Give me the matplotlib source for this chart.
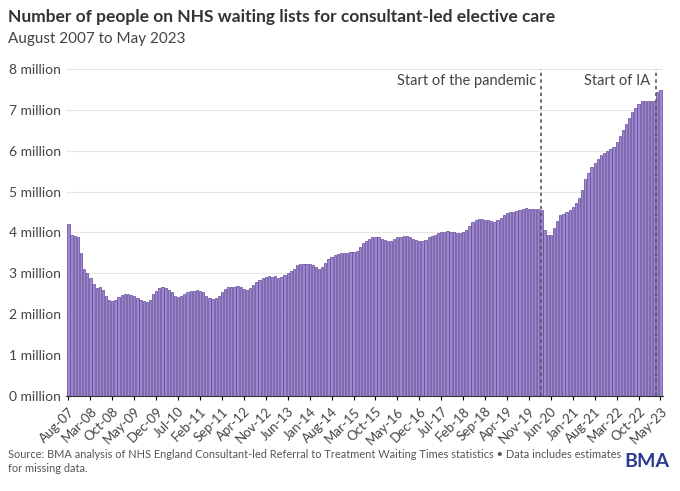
import numpy as np
import pandas as pd
import matplotlib
matplotlib.use('Agg')
import matplotlib.pyplot as plt

plt.rcParams['font.family'] = ['Lato', 'DejaVu Sans']

# Waiting list size, millions, monthly Aug 2007 - May 2023
values = [
    4.2, 3.95, 3.92, 3.88, 3.5,
    3.1, 3.0, 2.9, 2.75, 2.65, 2.68, 2.6, 2.45, 2.35, 2.33, 2.35, 2.42,
    2.47, 2.5, 2.5, 2.48, 2.45, 2.4, 2.35, 2.33, 2.3, 2.35, 2.5, 2.58,
    2.65, 2.68, 2.65, 2.6, 2.55, 2.45, 2.42, 2.45, 2.5, 2.55, 2.58, 2.58,
    2.6, 2.58, 2.55, 2.45, 2.4, 2.38, 2.4, 2.45, 2.55, 2.62, 2.67, 2.68,
    2.68, 2.7, 2.68, 2.62, 2.6, 2.65, 2.72, 2.8, 2.85, 2.9, 2.92, 2.93,
    2.92, 2.93, 2.9, 2.92, 2.95, 3.0, 3.05, 3.12, 3.2, 3.22, 3.23, 3.24,
    3.22, 3.2, 3.15, 3.12, 3.15, 3.25, 3.35, 3.4, 3.45, 3.48, 3.5, 3.5,
    3.5, 3.52, 3.52, 3.55, 3.65, 3.75, 3.8, 3.85, 3.88, 3.9, 3.9, 3.85,
    3.82, 3.78, 3.8, 3.85, 3.88, 3.9, 3.92, 3.92, 3.9, 3.85, 3.82, 3.8,
    3.78, 3.82, 3.88, 3.92, 3.95, 3.98, 4.0, 4.02, 4.03, 4.02, 4.0, 3.98,
    3.98, 4.0, 4.05, 4.15, 4.25, 4.3, 4.32, 4.33, 4.3, 4.3, 4.28, 4.26,
    4.3, 4.35, 4.42, 4.47, 4.5, 4.5, 4.52, 4.55, 4.58, 4.6, 4.58, 4.58,
    4.57, 4.57, 4.55, 4.05, 3.93, 3.95, 4.1, 4.28, 4.42, 4.45, 4.5, 4.55,
    4.62, 4.72, 4.85, 5.05, 5.3, 5.45, 5.6, 5.7, 5.8, 5.9, 5.95, 6.0,
    6.05, 6.1, 6.2, 6.35, 6.5, 6.65, 6.8, 6.95, 7.05, 7.15, 7.2, 7.2,
    7.2, 7.2, 7.22, 7.42, 7.47,
]
months = pd.date_range('2007-08-01', periods=len(values), freq='MS')
labels = [m.strftime('%b-%y') for m in months]
events = [('Start of the pandemic', 151), ('Start of IA', 187.5)]

fig = plt.figure(figsize=(6.8, 4.91), dpi=100)
ax = fig.add_axes([0.097, 0.193, 0.878, 0.667])
x = np.arange(len(values))
ax.bar(x, values, width=0.72, color='#9f88d2', edgecolor='#5f4697', linewidth=0.5)

for name, pos in events:
    ax.axvline(pos, color='#555555', linestyle=(0, (2, 2)), linewidth=1.2)
    ax.text(pos - 1.8, 7.7, name, ha='right', va='center', fontsize=10.5, color='#444444')

ax.set_ylim(0, 8)
ax.set_xlim(-0.8, len(values) - 0.2)
ax.set_yticks(range(9))
ax.set_yticklabels([f'{i} million' for i in range(9)], fontsize=10, color='#444444')
ax.set_xticks(x[::7])
ax.set_xticklabels(labels[::7], rotation=45, ha='right', rotation_mode='anchor', fontsize=9.5, color='#444444')
ax.grid(axis='y', color='#e6e6e6', linewidth=0.8)
ax.set_axisbelow(True)
for s in ['top', 'right', 'left']:
    ax.spines[s].set_visible(False)
ax.spines['bottom'].set_color('#333333')
ax.tick_params(axis='y', length=0)
ax.tick_params(axis='x', length=3)

fig.text(0.012, 0.965, 'Number of people on NHS waiting lists for consultant-led elective care',
         fontsize=12.5, fontweight='bold', color='#333333', va='center')
fig.text(0.012, 0.92, 'August 2007 to May 2023', fontsize=11, color='#444444', va='center')
fig.text(0.012, 0.06, 'Source: BMA analysis of NHS England Consultant-led Referral to Treatment Waiting Times statistics • Data includes estimates\nfor missing data.',
         fontsize=7.9, color='#555555', va='center', linespacing=1.3)
fig.text(0.985, 0.06, 'BMA', fontsize=14, fontweight='bold', color='#2a3a8c', ha='right', va='center')

fig.savefig('out.png', dpi=100)
